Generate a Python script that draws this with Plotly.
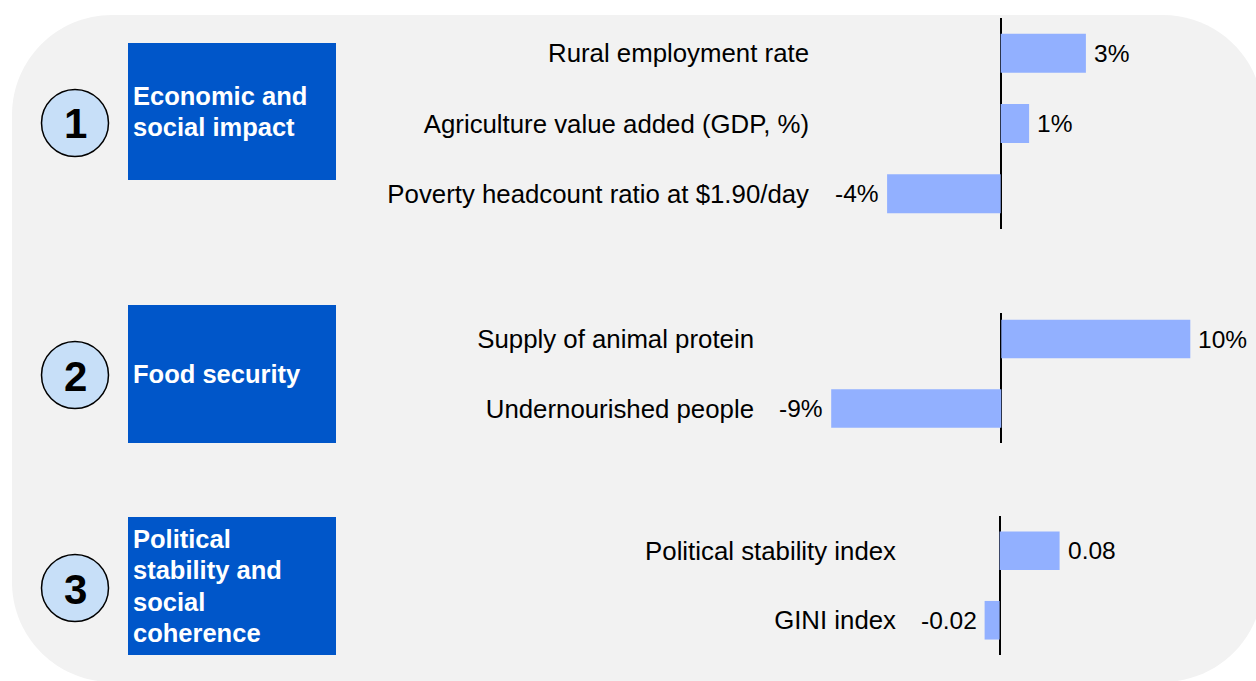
import plotly.graph_objects as go

W, H = 1256, 681

# ---------------- data ----------------
p1_labels = ["Rural employment rate", "Agriculture value added (GDP, %)", "Poverty headcount ratio at $1.90/day"]
p1_values = [3, 1, -4]
p1_text = ["3%", "1%", "-4%"]

p2_labels = ["Supply of animal protein", "Undernourished people"]
p2_values = [10, -9]
p2_text = ["10%", "-9%"]

p3_labels = ["Political stability index", "GINI index"]
p3_values = [0.08, -0.02]
p3_text = ["0.08", "-0.02"]

section_numbers = ["1", "2", "3"]
section_titles = [["Economic and", "social impact"], ["Food security"],
                  ["Political", "stability and", "social", "coherence"]]

# ---------------- styling / geometry ----------------
FONT = "Liberation Sans, Arial, sans-serif"
BAR_COLOR = "#92B0FF"
BOX_COLOR = "#0056C9"
CIRCLE_FILL = "#C7DFF8"
BG_GRAY = "#F2F2F2"
LINE_H = 31.3


def fx(px):
    return px / W


def fy(py):
    return 1 - py / H


GAP = 2  # distance between category label end and plot-area edge
panels = [
    dict(labels=p1_labels, values=p1_values, text=p1_text, ytop=18, ybot=229,
         yrange=[2.5, -0.5], zero=1000.7, scale=28.4, label_end=808),
    dict(labels=p2_labels, values=p2_values, text=p2_text, ytop=313, ybot=443.2,
         yrange=[1.5, -0.375], zero=1001.3, scale=18.9, label_end=753),
    dict(labels=p3_labels, values=p3_values, text=p3_text, ytop=516, ybot=655,
         yrange=[1.5, -0.5], zero=999.6, scale=750.0, label_end=895),
]

fig = go.Figure()
layout_axes = {}
annotations = []

for i, p in enumerate(panels, start=1):
    xa = "x" if i == 1 else f"x{i}"
    ya = "y" if i == 1 else f"y{i}"
    xkey = "xaxis" if i == 1 else f"xaxis{i}"
    ykey = "yaxis" if i == 1 else f"yaxis{i}"
    left = p["label_end"] + GAP
    fig.add_trace(go.Bar(
        orientation="h", y=p["labels"], x=p["values"], xaxis=xa, yaxis=ya,
        width=0.555, marker=dict(color=BAR_COLOR, line=dict(width=0)),
        hoverinfo="skip", showlegend=False))
    layout_axes[xkey] = dict(
        domain=[fx(left), 1.0], anchor=ya,
        range=[(left - p["zero"]) / p["scale"], (W - p["zero"]) / p["scale"]],
        showticklabels=False, showgrid=False, showline=False, ticks="",
        zeroline=True, zerolinecolor="#000000", zerolinewidth=2, fixedrange=True)
    layout_axes[ykey] = dict(
        domain=[fy(p["ybot"]), fy(p["ytop"])], anchor=xa, type="category",
        categoryorder="array", categoryarray=p["labels"], range=p["yrange"],
        showgrid=False, showline=False, zeroline=False, ticks="",
        tickfont=dict(family=FONT, size=25.8, color="#000000"), fixedrange=True)
    for v, lab, t in zip(p["values"], p["labels"], p["text"]):
        annotations.append(dict(
            xref=xa, yref=ya, x=v, y=lab, text=t, showarrow=False,
            xanchor="left" if v >= 0 else "right",
            xshift=6 if v >= 0 else -6, yanchor="middle",
            font=dict(family=FONT, size=24.5, color="#000000")))

# ---------------- background and decorations ----------------
shapes = []
xl, xr, yt, yb = fx(12), fx(1263), fy(15), fy(682)
rx, ry = 100 / W, 100 / H
k = 0.5523
path = (
    f"M {xl + rx},{yt} L {xr - rx},{yt} "
    f"C {xr - rx + k * rx},{yt} {xr},{yt - ry + k * ry} {xr},{yt - ry} "
    f"L {xr},{yb + ry} "
    f"C {xr},{yb + ry - k * ry} {xr - rx + k * rx},{yb} {xr - rx},{yb} "
    f"L {xl + rx},{yb} "
    f"C {xl + rx - k * rx},{yb} {xl},{yb + ry - k * ry} {xl},{yb + ry} "
    f"L {xl},{yt - ry} "
    f"C {xl},{yt - ry + k * ry} {xl + rx - k * rx},{yt} {xl + rx},{yt} Z"
)
shapes.append(dict(type="path", xref="paper", yref="paper", path=path,
                   fillcolor=BG_GRAY, line=dict(width=0), layer="below"))

boxes = [(43, 180), (305, 443), (517, 655)]
circle_cy = [123, 375, 588]
for (top, bot), cy, num, lines in zip(boxes, circle_cy, section_numbers, section_titles):
    shapes.append(dict(type="rect", xref="paper", yref="paper",
                       x0=fx(128), x1=fx(336), y0=fy(bot), y1=fy(top),
                       fillcolor=BOX_COLOR, line=dict(width=0), layer="below"))
    shapes.append(dict(type="circle", xref="paper", yref="paper",
                       x0=fx(75 - 33.5), x1=fx(75 + 33.5),
                       y0=fy(cy + 33.5), y1=fy(cy - 33.5),
                       fillcolor=CIRCLE_FILL, line=dict(color="#000000", width=1.5),
                       layer="below"))
    annotations.append(dict(xref="paper", yref="paper", x=fx(75), y=fy(cy + 1),
                            text=f"<b>{num}</b>", showarrow=False,
                            xanchor="center", yanchor="middle",
                            font=dict(family=FONT, size=42, color="#000000")))
    mid = (top + bot) / 2
    n = len(lines)
    for j, line in enumerate(lines):
        ly = mid + (j - (n - 1) / 2) * LINE_H
        annotations.append(dict(xref="paper", yref="paper", x=fx(131),
                                y=fy(ly), text=f"<b>{line}</b>",
                                showarrow=False, xanchor="left", yanchor="middle",
                                align="left",
                                font=dict(family=FONT, size=25.5, color="#FFFFFF")))

fig.update_layout(
    width=W, height=H, autosize=False,
    margin=dict(l=0, r=0, t=0, b=0),
    paper_bgcolor="#FFFFFF", plot_bgcolor="rgba(0,0,0,0)",
    shapes=shapes, annotations=annotations, showlegend=False,
    font=dict(family=FONT), bargap=0.45,
    **layout_axes)

fig.write_html("out.html", config={"displayModeBar": False},
               post_script="document.body.style.margin='0';document.body.style.overflow='hidden';")
